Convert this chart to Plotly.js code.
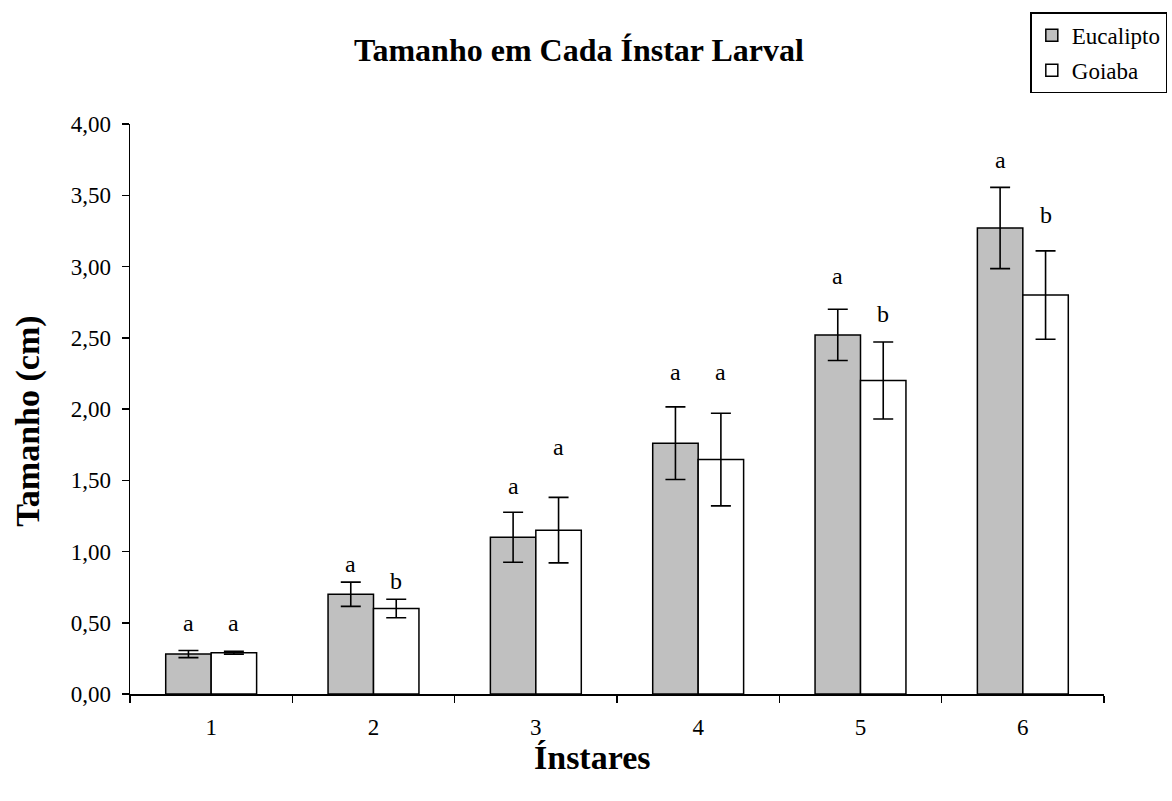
<!DOCTYPE html>
<html>
<head>
<meta charset="utf-8">
<script src="https://cdn.plot.ly/plotly-3.0.1.min.js"></script>
<style>html,body{margin:0;padding:0;background:#fff;}#chart{width:1172px;height:801px;}</style>
</head>
<body>
<div id="chart"></div>
<script>
const categories = ['1', '2', '3', '4', '5', '6'];
const eucalipto = [0.28, 0.70, 1.10, 1.76, 2.52, 3.27];
const eucaliptoErr = [0.025, 0.085, 0.175, 0.255, 0.18, 0.285];
const goiaba = [0.29, 0.60, 1.15, 1.645, 2.20, 2.80];
const goiabaErr = [0.01, 0.065, 0.23, 0.325, 0.27, 0.31];
const eucaliptoLetters = ['a', 'a', 'a', 'a', 'a', 'a'];
const goiabaLetters = ['a', 'b', 'a', 'a', 'b', 'b'];
const eucaliptoLetterY = [0.50, 0.91, 1.46, 2.26, 2.93, 3.75];
const goiabaLetterY = [0.50, 0.79, 1.73, 2.26, 2.67, 3.36];
const yTickVals = [0, 0.5, 1, 1.5, 2, 2.5, 3, 3.5, 4];

const FONT = 'Liberation Serif';
const BW = 0.28;

const errStyle = {type: 'data', visible: true, color: '#000', thickness: 1.6, width: 10};

const traces = [
  {
    type: 'bar', name: 'Eucalipto', x: categories, y: eucalipto,
    width: BW, offset: -BW, legendgroup: 'e',
    marker: {color: '#C0C0C0', line: {color: '#000', width: 1.5}},
    error_y: Object.assign({array: eucaliptoErr}, errStyle),
    hoverinfo: 'y'
  },
  {
    type: 'bar', name: 'Goiaba', x: categories, y: goiaba,
    width: BW, offset: 0, legendgroup: 'g',
    marker: {color: '#FFFFFF', line: {color: '#000', width: 1.5}},
    error_y: Object.assign({array: goiabaErr}, errStyle),
    hoverinfo: 'y'
  }
];

const annotations = [];
categories.forEach((c, i) => {
  annotations.push({xref: 'x', yref: 'y', x: i - BW / 2, y: eucaliptoLetterY[i], text: eucaliptoLetters[i],
    showarrow: false, yanchor: 'middle', xanchor: 'center', font: {family: FONT, size: 24, color: '#000'}});
  annotations.push({xref: 'x', yref: 'y', x: i + BW / 2, y: goiabaLetterY[i], text: goiabaLetters[i],
    showarrow: false, yanchor: 'middle', xanchor: 'center', font: {family: FONT, size: 24, color: '#000'}});
});
// axis titles
annotations.push({xref: 'paper', yref: 'paper', x: 0.475, y: -0.112, text: '<b>Ínstares</b>',
  showarrow: false, xanchor: 'center', yanchor: 'middle', font: {family: FONT, size: 34, color: '#000'}});
annotations.push({xref: 'paper', yref: 'paper', x: -0.105, y: 0.479, text: '<b>Tamanho (cm)</b>', textangle: -90,
  showarrow: false, xanchor: 'center', yanchor: 'middle', font: {family: FONT, size: 34, color: '#000'}});

const layout = {
  width: 1172, height: 801,
  margin: {l: 130, r: 68, t: 124, b: 107, pad: 0, autoexpand: false},
  paper_bgcolor: '#fff', plot_bgcolor: '#fff',
  separators: ',.',
  font: {family: FONT, color: '#000', size: 23},
  barmode: 'overlay',
  title: {text: '<b>Tamanho em Cada Ínstar Larval</b>', x: 0.494, xanchor: 'center', y: 0.938, yanchor: 'middle',
    font: {family: FONT, size: 32, color: '#000'}},
  xaxis: {
    type: 'category', tickson: 'boundaries', range: [-0.5, 5.5],
    showline: true, linecolor: '#000', linewidth: 1.5, mirror: false,
    ticks: 'outside', ticklen: 7, tickwidth: 1.5, tickcolor: '#000',
    ticklabelstandoff: 12,
    showgrid: false, zeroline: false,
    tickfont: {family: FONT, size: 23, color: '#000'}
  },
  yaxis: {
    range: [0, 4], tickvals: yTickVals, tickformat: '.2f',
    showline: true, linecolor: '#000', linewidth: 1.5,
    ticks: 'outside', ticklen: 7, tickwidth: 1.5, tickcolor: '#000',
    ticklabelstandoff: 6,
    showgrid: false, zeroline: false,
    tickfont: {family: FONT, size: 23, color: '#000'}
  },
  showlegend: true,
  legend: {
    x: 1.065, y: 1.196, xanchor: 'right', yanchor: 'top',
    bordercolor: '#000', borderwidth: 1.5, bgcolor: '#fff',
    font: {family: FONT, size: 23, color: '#000'},
    traceorder: 'grouped', tracegroupgap: 2, itemwidth: 30
  },
  annotations: annotations
};

Plotly.newPlot('chart', traces, layout, {displayModeBar: false, staticPlot: true});
</script>
</body>
</html>
